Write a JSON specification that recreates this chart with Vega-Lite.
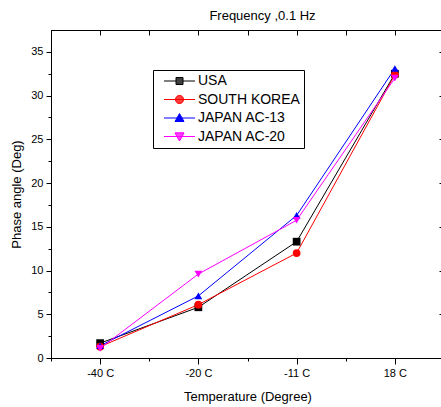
{
  "$schema": "https://vega.github.io/schema/vega-lite/v6.json",
  "autosize": "none",
  "padding": {"left": 51, "top": 30, "right": 0, "bottom": 49},
  "width": 393,
  "height": 328,
  "background": "white",
  "config": {
    "font": "Liberation Sans",
    "view": {"stroke": "black", "strokeWidth": 1},
    "axis": {"domainColor": "black", "tickColor": "black", "labelColor": "black", "titleColor": "black", "labelFont": "Liberation Sans", "titleFont": "Liberation Sans", "labelFontSize": 11, "titleFontSize": 13, "titleFontWeight": "normal", "grid": false},
    "legend": {"orient": "none", "legendX": 102, "legendY": 40, "title": null, "strokeColor": "black", "fillColor": "white", "padding": 4,
      "labelFont": "Liberation Sans", "labelFontSize": 14, "labelColor": "black", "labelOffset": 27, "rowPadding": 4.5, "symbolSize": 100, "symbolStrokeWidth": 1}
  },
  "title": {"text": "Frequency ,0.1 Hz", "font": "Liberation Sans", "fontSize": 13, "fontWeight": "normal", "color": "black", "dx": 15, "offset": 7},
  "data": {"values": [
    {"country": "USA", "i": 0, "temp": "-40 C", "phase": 1.7},
    {"country": "USA", "i": 1, "temp": "-20 C", "phase": 5.8},
    {"country": "USA", "i": 2, "temp": "-11 C", "phase": 13.3},
    {"country": "USA", "i": 3, "temp": "18 C", "phase": 32.5},
    {"country": "SOUTH KOREA", "i": 0, "temp": "-40 C", "phase": 1.3},
    {"country": "SOUTH KOREA", "i": 1, "temp": "-20 C", "phase": 6.1},
    {"country": "SOUTH KOREA", "i": 2, "temp": "-11 C", "phase": 12.0},
    {"country": "SOUTH KOREA", "i": 3, "temp": "18 C", "phase": 32.4},
    {"country": "JAPAN AC-13", "i": 0, "temp": "-40 C", "phase": 1.4},
    {"country": "JAPAN AC-13", "i": 1, "temp": "-20 C", "phase": 7.1},
    {"country": "JAPAN AC-13", "i": 2, "temp": "-11 C", "phase": 16.3},
    {"country": "JAPAN AC-13", "i": 3, "temp": "18 C", "phase": 33.1},
    {"country": "JAPAN AC-20", "i": 0, "temp": "-40 C", "phase": 1.1},
    {"country": "JAPAN AC-20", "i": 1, "temp": "-20 C", "phase": 9.6},
    {"country": "JAPAN AC-20", "i": 2, "temp": "-11 C", "phase": 15.75},
    {"country": "JAPAN AC-20", "i": 3, "temp": "18 C", "phase": 32.0}
  ]},
  "resolve": {
    "axis": {"x": "independent", "y": "independent"},
    "scale": {"shape": "independent"},
    "legend": {"color": "independent", "shape": "independent"}
  },
  "layer": [
    {
      "mark": {"type": "line", "strokeWidth": 1},
      "encoding": {
        "x": {"field": "i", "type": "quantitative", "scale": {"domain": [-0.5, 3.5], "nice": false, "zero": false},
          "axis": {"orient": "bottom", "title": "Temperature (Degree)", "values": [-0.5, 0, 0.5, 1, 1.5, 2, 2.5, 3, 3.5],
            "labelExpr": "datum.value === 0 ? '-40 C' : datum.value === 1 ? '-20 C' : datum.value === 2 ? '-11 C' : datum.value === 3 ? '18 C' : ''",
            "tickSize": {"condition": {"test": "datum.value % 1 !== 0", "value": 3}, "value": 6},
            "labelPadding": 3, "titlePadding": 12, "labelFlush": false, "labelOverlap": false}},
        "y": {"field": "phase", "type": "quantitative", "scale": {"domain": [0, 37.5], "nice": false},
          "axis": {"orient": "left", "title": "Phase angle (Deg)", "values": [0, 2.5, 5, 7.5, 10, 12.5, 15, 17.5, 20, 22.5, 25, 27.5, 30, 32.5, 35],
            "labelExpr": "datum.value % 5 === 0 ? datum.label : ''",
            "tickSize": {"condition": {"test": "datum.value % 5 !== 0", "value": 3}, "value": 5},
            "labelPadding": 3, "titlePadding": 7, "labelOverlap": false}},
        "color": {"field": "country", "type": "nominal",
          "scale": {"domain": ["USA", "SOUTH KOREA", "JAPAN AC-13", "JAPAN AC-20"], "range": ["#000000", "#ff0000", "#0000ff", "#ff00ff"]},
          "legend": null}
      }
    },
    {
      "mark": {"type": "point", "filled": true, "opacity": 1, "size": 60},
      "encoding": {
        "x": {"field": "i", "type": "quantitative",
          "axis": {"orient": "top", "title": null, "labels": false, "values": [-0.5, 0, 0.5, 1, 1.5, 2, 2.5, 3, 3.5], "tickSize": -5}},
        "y": {"field": "phase", "type": "quantitative",
          "axis": {"orient": "right", "title": null, "labels": false, "values": [0, 2.5, 5, 7.5, 10, 12.5, 15, 17.5, 20, 22.5, 25, 27.5, 30, 32.5, 35],
            "tickSize": {"condition": {"test": "datum.value % 5 !== 0", "value": -3}, "value": -5}}},
        "color": {"field": "country", "type": "nominal",
          "scale": {"domain": ["USA", "SOUTH KOREA", "JAPAN AC-13", "JAPAN AC-20"], "range": ["#000000", "#ff0000", "#0000ff", "#ff00ff"]},
          "legend": null},
        "shape": {"field": "country", "type": "nominal",
          "scale": {"domain": ["USA", "SOUTH KOREA", "JAPAN AC-13", "JAPAN AC-20"], "range": ["square", "circle", "triangle-up", "triangle-down"]},
          "legend": null}
      }
    },
    {
      "mark": {"type": "point", "filled": false, "opacity": 0, "size": 60},
      "encoding": {
        "x": {"field": "i", "type": "quantitative", "axis": null},
        "y": {"field": "phase", "type": "quantitative", "axis": null},
        "color": {"field": "country", "type": "nominal",
          "scale": {"domain": ["USA", "SOUTH KOREA", "JAPAN AC-13", "JAPAN AC-20"], "range": ["#000000", "#ff0000", "#0000ff", "#ff00ff"]}},
        "shape": {"field": "country", "type": "nominal",
          "scale": {"domain": ["USA", "SOUTH KOREA", "JAPAN AC-13", "JAPAN AC-20"],
            "range": [
              "M0,0H6.2M2.4,-0.7H3.8V0.7H2.4ZM2.4,-0.6H3.8M2.4,-0.4H3.8M2.4,-0.2H3.8M2.4,0.2H3.8M2.4,0.4H3.8M2.4,0.6H3.8",
              "M0,0H6.2M2.3,0A0.8,0.8 0 1,0 3.9,0A0.8,0.8 0 1,0 2.3,0ZM2.713,-0.7H3.487M2.476,-0.5H3.724M2.358,-0.3H3.842M2.306,-0.1H3.894M2.306,0.1H3.894M2.358,0.3H3.842M2.476,0.5H3.724M2.713,0.7H3.487",
              "M0,0H6.2M3.1,-0.9L4.0,0.7L2.2,0.7ZM2.99,-0.7H3.21M2.875,-0.5H3.325M2.76,-0.3H3.44M2.65,-0.1H3.55M2.54,0.1H3.66M2.425,0.3H3.775M2.31,0.5H3.89M2.2,0.7H4.0",
              "M0,0H6.2M3.1,0.9L4.0,-0.7L2.2,-0.7ZM2.99,0.7H3.21M2.875,0.5H3.325M2.76,0.3H3.44M2.65,0.1H3.55M2.54,-0.1H3.66M2.425,-0.3H3.775M2.31,-0.5H3.89M2.2,-0.7H4.0"
            ]}}
      }
    }
  ]
}
